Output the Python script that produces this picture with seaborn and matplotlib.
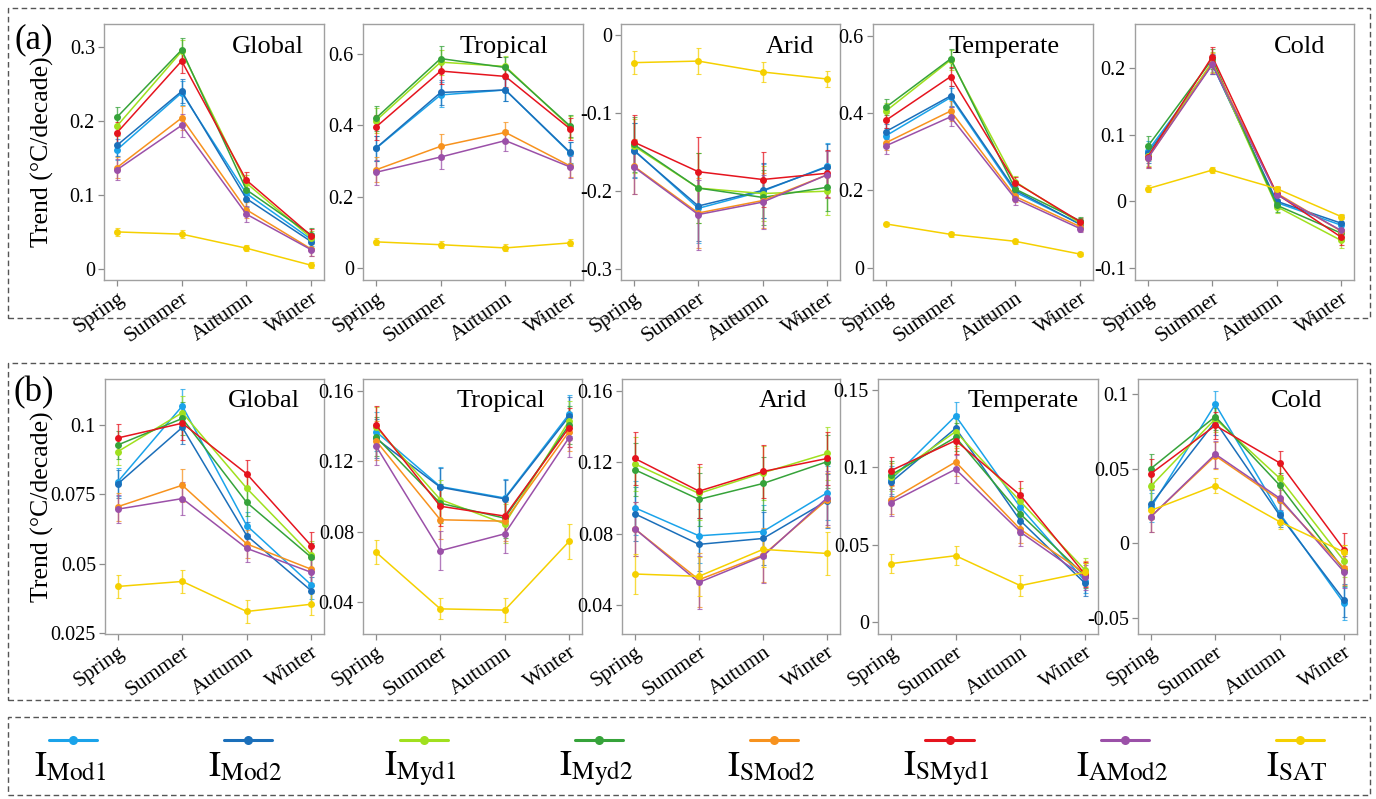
import pandas as pd
import matplotlib
matplotlib.use("Agg")
import matplotlib.pyplot as plt
import seaborn as sns
from matplotlib.patches import Rectangle
from matplotlib.lines import Line2D

seasons = ["Spring", "Summer", "Autumn", "Winter"]
series = ["Mod1", "Mod2", "Myd1", "Myd2", "SMod2", "SMyd1", "AMod2", "SAT"]
regions = ["Global", "Tropical", "Arid", "Temperate", "Cold"]
colors = ["#1aa3ea", "#1b6fba", "#a0e01e", "#36a33a", "#f7921e",
          "#e5141e", "#9b50a8", "#f5d000"]

# values, rows in the order of `series`, columns Spring..Winter
a_global = [[0.161, 0.238, 0.102, 0.040],
            [0.167, 0.240, 0.095, 0.037],
            [0.193, 0.294, 0.116, 0.042],
            [0.205, 0.296, 0.107, 0.046],
            [0.137, 0.204, 0.080, 0.027],
            [0.184, 0.281, 0.120, 0.045],
            [0.134, 0.194, 0.074, 0.026],
            [0.050, 0.047, 0.028, 0.005]]
a_tropical = [[0.335, 0.485, 0.499, 0.322],
              [0.336, 0.492, 0.499, 0.324],
              [0.413, 0.577, 0.565, 0.395],
              [0.420, 0.587, 0.562, 0.398],
              [0.275, 0.341, 0.380, 0.286],
              [0.395, 0.552, 0.537, 0.390],
              [0.268, 0.311, 0.357, 0.283],
              [0.073, 0.065, 0.056, 0.070]]
a_arid = [[-0.147, -0.222, -0.200, -0.168],
          [-0.148, -0.219, -0.199, -0.169],
          [-0.142, -0.196, -0.203, -0.200],
          [-0.140, -0.196, -0.208, -0.195],
          [-0.168, -0.228, -0.212, -0.179],
          [-0.137, -0.175, -0.185, -0.177],
          [-0.169, -0.230, -0.214, -0.179],
          [-0.035, -0.033, -0.047, -0.056]]
a_temperate = [[0.341, 0.440, 0.195, 0.113],
               [0.352, 0.444, 0.200, 0.112],
               [0.405, 0.537, 0.222, 0.115],
               [0.415, 0.540, 0.203, 0.121],
               [0.323, 0.405, 0.184, 0.106],
               [0.381, 0.494, 0.220, 0.119],
               [0.315, 0.390, 0.178, 0.101],
               [0.113, 0.086, 0.068, 0.035]]
a_cold = [[0.076, 0.207, -0.002, -0.036],
          [0.072, 0.206, 0.000, -0.033],
          [0.068, 0.210, -0.008, -0.059],
          [0.083, 0.214, -0.006, -0.048],
          [0.065, 0.208, 0.012, -0.045],
          [0.067, 0.218, 0.011, -0.054],
          [0.065, 0.206, 0.010, -0.044],
          [0.019, 0.047, 0.019, -0.023]]

b_global = [[0.0795, 0.1067, 0.0637, 0.0424],
            [0.0787, 0.0990, 0.0601, 0.0403],
            [0.0903, 0.1043, 0.0771, 0.0532],
            [0.0927, 0.1022, 0.0720, 0.0523],
            [0.0705, 0.0782, 0.0571, 0.0480],
            [0.0952, 0.1005, 0.0823, 0.0565],
            [0.0696, 0.0734, 0.0555, 0.0469],
            [0.0418, 0.0436, 0.0328, 0.0354]]
b_tropical = [[0.1369, 0.1056, 0.0991, 0.1468],
              [0.1330, 0.1052, 0.0986, 0.1455],
              [0.1396, 0.0982, 0.0844, 0.1430],
              [0.1339, 0.0961, 0.0876, 0.1407],
              [0.1317, 0.0867, 0.0859, 0.1369],
              [0.1407, 0.0944, 0.0888, 0.1392],
              [0.1288, 0.0691, 0.0787, 0.1335],
              [0.0683, 0.0360, 0.0353, 0.0744]]
b_arid = [[0.0945, 0.0788, 0.0812, 0.1029],
          [0.0911, 0.0740, 0.0773, 0.0984],
          [0.1191, 0.1025, 0.1141, 0.1249],
          [0.1158, 0.0992, 0.1081, 0.1203],
          [0.0827, 0.0542, 0.0680, 0.0990],
          [0.1221, 0.1038, 0.1148, 0.1221],
          [0.0827, 0.0527, 0.0674, 0.1001],
          [0.0574, 0.0561, 0.0712, 0.0689]]
b_temperate = [[0.0920, 0.1332, 0.0742, 0.0267],
               [0.0904, 0.1252, 0.0656, 0.0252],
               [0.0936, 0.1231, 0.0780, 0.0338],
               [0.0951, 0.1194, 0.0699, 0.0300],
               [0.0790, 0.1035, 0.0600, 0.0316],
               [0.0979, 0.1173, 0.0820, 0.0310],
               [0.0773, 0.0988, 0.0583, 0.0290],
               [0.0379, 0.0430, 0.0237, 0.0323]]
b_cold = [[0.0240, 0.0933, 0.0200, -0.0404],
          [0.0260, 0.0817, 0.0187, -0.0382],
          [0.0383, 0.0835, 0.0436, -0.0119],
          [0.0501, 0.0850, 0.0389, -0.0180],
          [0.0178, 0.0587, 0.0290, -0.0168],
          [0.0467, 0.0790, 0.0539, -0.0043],
          [0.0178, 0.0598, 0.0302, -0.0193],
          [0.0220, 0.0387, 0.0144, -0.0060]]

# error bar half-widths per season: satellite products, then SAT
a_err = [[0.014, 0.016, 0.011, 0.009], [0.035, 0.035, 0.030, 0.030],
         [0.035, 0.045, 0.035, 0.030], [0.020, 0.025, 0.015, 0.010],
         [0.015, 0.015, 0.010, 0.012]]
a_err_sat = [[0.005, 0.005, 0.004, 0.004], [0.010, 0.010, 0.010, 0.010],
             [0.015, 0.017, 0.013, 0.010], [0.006, 0.006, 0.006, 0.005],
             [0.005, 0.005, 0.004, 0.004]]
b_err = [[0.005, 0.006, 0.005, 0.005], [0.011, 0.011, 0.011, 0.011],
         [0.015, 0.015, 0.015, 0.015], [0.009, 0.009, 0.009, 0.008],
         [0.010, 0.009, 0.008, 0.011]]
b_err_sat = [[0.004, 0.004, 0.004, 0.004], [0.007, 0.006, 0.007, 0.010],
             [0.011, 0.011, 0.010, 0.012], [0.006, 0.006, 0.007, 0.006],
             [0.005, 0.005, 0.005, 0.005]]

a_yticks = [[0, 0.1, 0.2, 0.3], [0, 0.2, 0.4, 0.6], [-0.3, -0.2, -0.1, 0],
            [0, 0.2, 0.4, 0.6], [-0.1, 0, 0.1, 0.2]]
b_yticks = [[0.025, 0.05, 0.075, 0.1], [0.04, 0.08, 0.12, 0.16],
            [0.04, 0.08, 0.12, 0.16], [0, 0.05, 0.1, 0.15], [-0.05, 0, 0.05, 0.1]]

sns.set_style("white")
plt.rcParams["font.family"] = ["Liberation Serif", "DejaVu Serif"]
plt.rcParams["mathtext.fontset"] = "stix"
plt.rcParams["axes.unicode_minus"] = False
plt.rcParams["text.color"] = "black"
plt.rcParams["xtick.color"] = "black"
plt.rcParams["ytick.color"] = "black"
plt.rcParams["axes.labelcolor"] = "black"

W, H = 1376, 799
fig = plt.figure(figsize=(W / 100, H / 100), dpi=100)

# axes boxes in pixels (left, top, right, bottom)
a_boxes = [(104, 24, 324, 280), (363, 24, 583, 280), (621, 24, 840, 280),
           (873, 24, 1093, 280), (1135, 24, 1354, 280)]
b_boxes = [(105, 379, 324, 634), (363, 379, 582, 634), (622, 379, 840, 634),
           (878, 379, 1098, 634), (1138, 379, 1357, 634)]
a_ylims = [(-0.015, 0.331), (-0.034, 0.684), (-0.314, 0.0146),
           (-0.032, 0.630), (-0.1186, 0.267)]
b_ylims = [(0.0247, 0.1164), (0.0217, 0.1668), (0.0238, 0.1666),
           (-0.0075, 0.157), (-0.0609, 0.1102)]
a_title_x = [0.91, 0.84, 0.88, 0.85, 0.87]
b_title_x = [0.89, 0.83, 0.85, 0.91, 0.84]


def panel(box, vals, err, err_sat, ylim, yticks, title, tx, ylabel):
    l, t, r, b = box
    ax = fig.add_axes([l / W, 1 - b / H, (r - l) / W, (b - t) / H])
    rows = []
    for i, name in enumerate(series):
        e = err_sat if name == "SAT" else err
        for j, s in enumerate(seasons):
            rows.append({"series": name, "season": s, "value": vals[i][j], "err": e[j]})
    df = pd.DataFrame(rows)
    for i, name in enumerate(series):
        d = df[df.series == name]
        ax.errorbar(range(4), d["value"], yerr=d["err"], fmt="none",
                    ecolor=colors[i], elinewidth=1.0, capsize=1.8,
                    capthick=0.8, alpha=0.75, zorder=2)
    sns.lineplot(data=df, x="season", y="value", hue="series",
                 hue_order=series, palette=colors, marker="o", markersize=5,
                 markeredgewidth=0, linewidth=1.1, legend=False, sort=False,
                 ax=ax, zorder=3)
    ax.set_xlim(-0.2, 3.2)
    ax.set_ylim(*ylim)
    ax.set_yticks(yticks)
    ax.set_yticklabels([f"{v:g}" for v in yticks], fontsize=14.5)
    ax.set_xticks(range(4))
    ax.set_xticklabels(seasons, rotation=35, ha="right",
                       rotation_mode="anchor", fontsize=15.5)
    ax.tick_params(axis="both", which="major", direction="out", length=4,
                   width=0.9, color="#8c8c8c", pad=2.5, bottom=True, left=True)
    for sp in ax.spines.values():
        sp.set_color("#a0a0a0")
        sp.set_linewidth(1.0)
    ax.set_xlabel("")
    ax.set_ylabel("")
    if ylabel:
        ax.set_ylabel("Trend (°C/decade)", fontsize=18.5)
        ax.yaxis.set_label_coords((54 - l) / (r - l), 0.5)
    ax.text(tx, 0.955, title, transform=ax.transAxes, ha="right", va="top",
            fontsize=19)
    return ax


a_data = [a_global, a_tropical, a_arid, a_temperate, a_cold]
b_data = [b_global, b_tropical, b_arid, b_temperate, b_cold]
for k in range(5):
    panel(a_boxes[k], a_data[k], a_err[k], a_err_sat[k], a_ylims[k],
          a_yticks[k], regions[k], a_title_x[k], k == 0)
    panel(b_boxes[k], b_data[k], b_err[k], b_err_sat[k], b_ylims[k],
          b_yticks[k], regions[k], b_title_x[k], k == 0)

# dashed frames
for (x0, y0, x1, y1) in [(8, 8, 1370, 318), (8, 363, 1370, 700), (8, 717, 1370, 795)]:
    fig.patches.append(Rectangle((x0 / W, 1 - y1 / H), (x1 - x0) / W, (y1 - y0) / H,
                                 transform=fig.transFigure, fill=False,
                                 edgecolor="#555555", linewidth=1.0,
                                 linestyle=(0, (4, 2.5))))

fig.text(34 / W, 1 - 40 / H, "(a)", ha="center", va="center", fontsize=25)
fig.text(34 / W, 1 - 393 / H, "(b)", ha="center", va="center", fontsize=25)

# legend row
for i, name in enumerate(series):
    cx = 73 + i * 175.3
    yl = 1 - 740 / H
    fig.add_artist(Line2D([(cx - 24) / W, (cx + 24) / W], [yl, yl],
                          transform=fig.transFigure, color=colors[i],
                          linewidth=2.2))
    fig.add_artist(Line2D([cx / W], [yl], transform=fig.transFigure,
                          color=colors[i], marker="o", markersize=6.5,
                          markeredgewidth=0))
    fig.text((cx - 3) / W, 1 - 776 / H, r"$\mathrm{I}_{\mathrm{%s}}$" % name,
             ha="center", va="baseline", fontsize=26)

fig.savefig("out.png", dpi=100)
